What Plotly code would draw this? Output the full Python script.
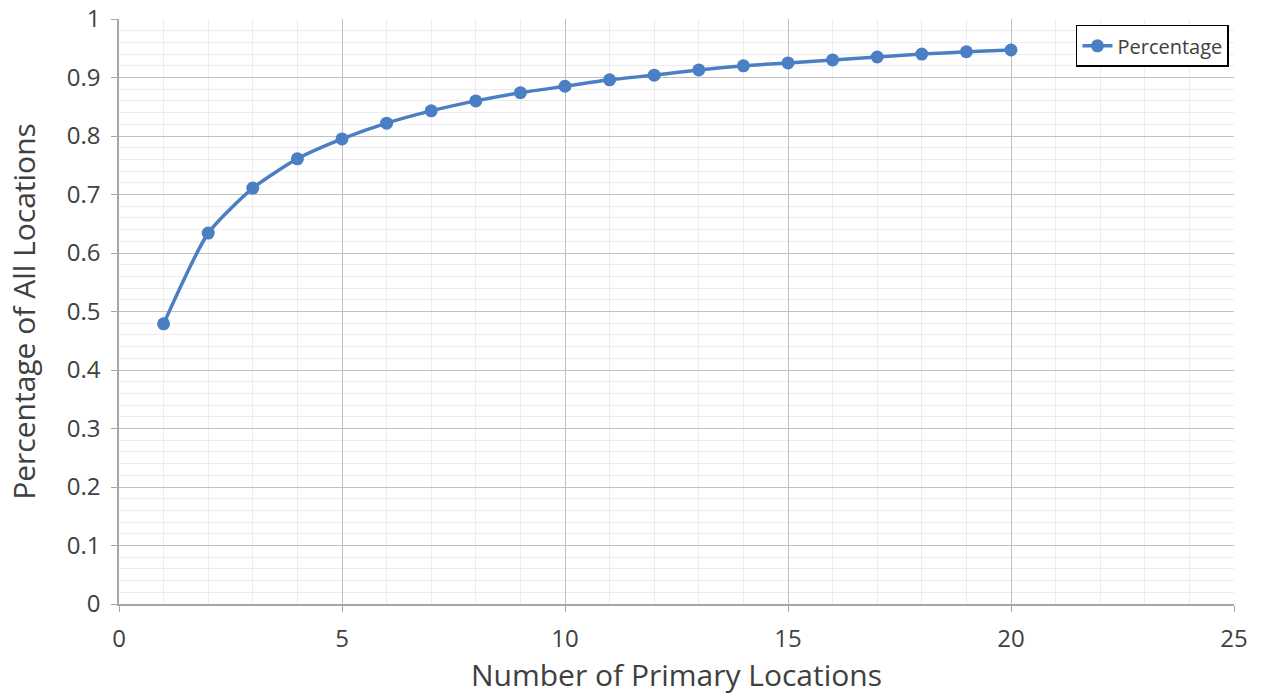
import plotly.graph_objects as go

x_vals = list(range(1, 21))
percentage = [0.479, 0.634, 0.711, 0.761, 0.795, 0.822, 0.843, 0.860, 0.874, 0.885,
              0.896, 0.904, 0.913, 0.920, 0.925, 0.930, 0.935, 0.940, 0.944, 0.947]
series_name = "Percentage"
x_title = "Number of Primary Locations"
y_title = "Percentage of All Locations"

color = "#4a7fc4"
font_fam = "Open Sans, sans-serif"

fig = go.Figure()
fig.add_trace(go.Scatter(
    x=x_vals, y=percentage, name=series_name, mode="lines+markers",
    line=dict(color=color, width=3.5, shape="spline", smoothing=0.6),
    marker=dict(color=color, size=13),
))

fig.update_layout(
    width=1263, height=698,
    margin=dict(l=119, r=29, t=19, b=94),
    paper_bgcolor="white", plot_bgcolor="white",
    font=dict(family=font_fam, color="#404040", size=22),
    showlegend=True,
    legend=dict(x=0.9955, y=0.99, xanchor="right", yanchor="top",
                bordercolor="#000000", borderwidth=1.5, bgcolor="white",
                font=dict(size=20, color="#404040"),
                itemwidth=30, tracegroupgap=0),
    xaxis=dict(
        range=[0, 25], dtick=5, tick0=0, automargin=False,
        showgrid=True, gridcolor="#c0c0c0", gridwidth=1.3,
        minor=dict(dtick=1, showgrid=True, gridcolor="#ececec", gridwidth=1.3),
        showline=True, linecolor="#a6a6a6", linewidth=1.5,
        ticks="outside", ticklen=6, tickcolor="#a6a6a6",
        zeroline=False, ticklabelstandoff=6,
        title=dict(text=x_title, font=dict(size=30, color="#404040"), standoff=12),
        tickfont=dict(size=24),
    ),
    yaxis=dict(
        range=[0, 1], dtick=0.1, tick0=0, automargin=False,
        showgrid=True, gridcolor="#c0c0c0", gridwidth=1.3,
        minor=dict(dtick=0.02, showgrid=True, gridcolor="#ececec", gridwidth=1.3),
        showline=True, linecolor="#a6a6a6", linewidth=1.5,
        ticks="outside", ticklen=6, tickcolor="#a6a6a6",
        zeroline=False, tickformat="~g", ticklabelstandoff=6,
        title=dict(text=y_title, font=dict(size=30, color="#404040"), standoff=22),
        tickfont=dict(size=24),
    ),
)

fig.write_html("out.html")
